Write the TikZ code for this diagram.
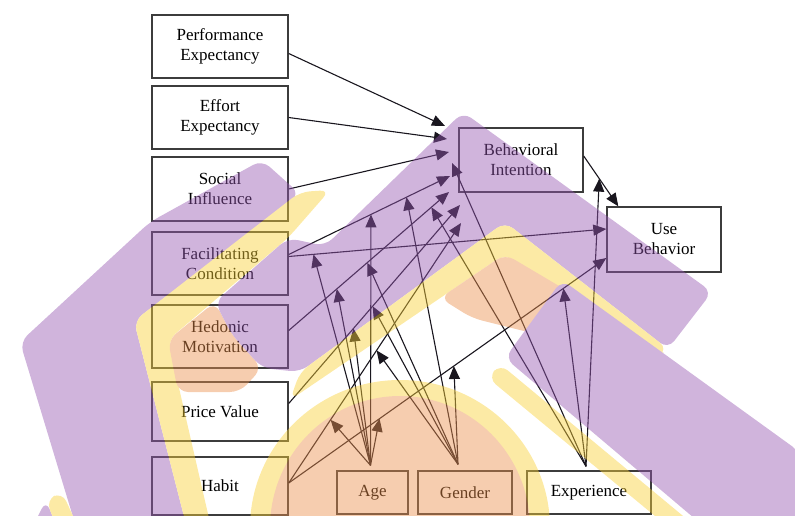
\documentclass[tikz,border=0pt]{standalone}
\usepackage{fontspec}
\setmainfont{Liberation Serif}
\usetikzlibrary{arrows.meta,calc}
\definecolor{wmPurple}{RGB}{150,88,178}
\definecolor{wmYellow}{RGB}{249,209,55}
\definecolor{wmPeach}{RGB}{235,144,77}
\definecolor{lineInk}{RGB}{25,22,30}
\definecolor{boxInk}{RGB}{60,60,60}
\begin{document}
\begin{tikzpicture}[x=1pt,y=-1pt,
  box/.style={draw=boxInk, line width=1.4pt, minimum width=136pt, minimum height=63pt,
              align=center, inner sep=0pt, font=\fontsize{17}{20}\selectfont, text=black},
  link/.style={draw=lineInk, line width=1.1pt, -{Triangle[length=13pt,width=11pt]}}]
\useasboundingbox (0,0) rectangle (795,516);

% ---- constructs ----
\node[box] (pe) at (220,46.5) {Performance\\Expectancy};
\node[box] (ee) at (220,117.5) {Effort\\Expectancy};
\node[box, minimum height=64pt] (si) at (220,189) {Social\\Influence};
\node[box] (fc) at (220,263.5) {Facilitating\\Condition};
\node[box] (hm) at (220,336.5) {Hedonic\\Motivation};
\node[box, minimum height=59pt] (pv) at (220,411.5) {Price Value};
\node[box, minimum height=58pt] (ht) at (220,486) {Habit};
\node[box, minimum width=124pt, minimum height=64pt] (bi) at (521,160) {Behavioral\\Intention};
\node[box, minimum width=114pt, minimum height=65pt] (ub) at (664,239.5) {Use\\Behavior};
\node[box, minimum width=71pt, minimum height=43pt] (age) at (372.5,492.5) {Age};
\node[box, minimum width=94pt, minimum height=43pt] (gen) at (465,492.5) {Gender};
\node[box, minimum width=124pt, minimum height=43pt] (exp) at (589,492.5) {Experience};

% ---- path end points ----
\coordinate (sPE) at ([yshift=-7pt]pe.east);
\coordinate (sEE) at (ee.east);
\coordinate (sSI) at (si.east);
\coordinate (sFC) at ([yshift=9pt]fc.east);
\coordinate (sFCu) at ([yshift=7pt]fc.east);
\coordinate (sHM) at ([yshift=6pt]hm.east);
\coordinate (sPV) at ([yshift=8pt]pv.east);
\coordinate (sHT) at ([yshift=3pt]ht.east);
\coordinate (sBI) at ([yshift=4pt]bi.east);

\coordinate (tPE) at (445,126);
\coordinate (tEE) at (447,139);
\coordinate (tSI) at (449,152);
\coordinate (tFC) at (450,176);
\coordinate (tHM) at (449,192);
\coordinate (tPV) at (460,205);
\coordinate (tHT) at (461,223);
\coordinate (tFCu) at ([yshift=10.5pt]ub.west);
\coordinate (tHTu) at ([yshift=-18.5pt]ub.west);
\coordinate (tBI) at ([xshift=12pt]ub.north west);

\coordinate (oAge) at ([xshift=-2pt,yshift=5pt]age.north);
\coordinate (oGen) at ([xshift=-7pt,yshift=6pt]gen.north);
\coordinate (oExp) at ([xshift=-3pt,yshift=4pt]exp.north);

% moderated points on the paths
\coordinate (a1) at ($(sFCu)!0.078!(tFCu)$);
\coordinate (a2) at ($(sFC)!0.51!(tFC)$);
\coordinate (a3) at ($(sHM)!0.30!(tHM)$);
\coordinate (a4) at ($(sPV)!0.378!(tPV)$);
\coordinate (a5) at ($(sHT)!0.243!(tHT)$);
\coordinate (a6) at ($(sHT)!0.286!(tHTu)$);
\coordinate (g1) at ($(sHM)!0.49!(tHM)$);
\coordinate (g2) at ($(sPV)!0.49!(tPV)$);
\coordinate (g3) at ($(sHT)!0.51!(tHT)$);
\coordinate (g4) at ($(sHT)!0.52!(tHTu)$);
\coordinate (g5) at ($(sFC)!0.73!(tFC)$);
\coordinate (e1) at ($(sHM)!0.89!(tHM)$);
\coordinate (e2) at ($(sHT)!0.865!(tHTu)$);
\coordinate (e3) at ($(sBI)!0.45!(tBI)$);
\coordinate (e4) at (452,163);

% ---- direct effects ----
\draw[link] (sPE) -- (tPE);
\draw[link] (sEE) -- (tEE);
\draw[link] (sSI) -- (tSI);
\draw[link] (sFC) -- (tFC);
\draw[link] (sHM) -- (tHM);
\draw[link] (sPV) -- (tPV);
\draw[link] (sHT) -- (tHT);
\draw[link] (sFCu) -- (tFCu);
\draw[link] (sHT) -- (tHTu);
\draw[link] (sBI) -- (tBI);

% ---- moderators ----
\foreach \t in {a1,a2,a3,a4,a5,a6} \draw[link] (oAge) -- (\t);
\foreach \t in {g1,g2,g3,g4,g5} \draw[link] (oGen) -- (\t);
\foreach \t in {e1,e2,e3,e4} \draw[link] (oExp) -- (\t);

% ---- logo watermark laid over the model ----
\begin{scope}[transparency group, opacity=0.45, rounded corners=10pt]
  \fill[wmPurple] (80,540) -- (20,342) -- (150,222) -- (262,160) -- (300,194) -- (134,321) -- (190,540) -- cycle;
  \fill[wmYellow] (190,540) -- (134,321) -- (300,192) -- (330,190) -- (288,238) -- (168,340) -- (214,540) -- cycle;
  \fill[wmPeach] (168,340) -- (215,302) -- (232,335) -- (262,368) -- (240,392) -- (178,392) -- cycle;
  \fill[wmPurple] (463,112) -- (712,292) -- (668,349) -- (505,222) -- (300,372) -- (262,368) -- (232,335) -- (215,302) -- (288,238) -- (325,246) -- cycle;
  \fill[wmYellow] (668,349) -- (505,222) -- (300,372) -- (290,400) -- (505,254) -- (656,358) -- cycle;
  \fill[wmPeach] (505,254) -- (576,296) -- (536,334) -- (472,318) -- (440,298) -- cycle;
  \fill[wmPurple] (562,280) -- (800,452) -- (800,540) -- (720,540) -- (505,358) -- cycle;
  \fill[wmYellow] (500,364) -- (712,540) -- (684,540) -- (488,378) -- cycle;
  \fill[wmYellow] (400,528) ellipse [x radius=150pt, y radius=148pt];
  \fill[wmPeach] (400,528) ellipse [x radius=130pt, y radius=132pt];
  \fill[wmPurple] (26,540) -- (46,500) -- (62,540) -- cycle;
  \fill[wmYellow] (46,500) -- (62,492) -- (84,540) -- (62,540) -- cycle;
\end{scope}
\end{tikzpicture}
\end{document}
